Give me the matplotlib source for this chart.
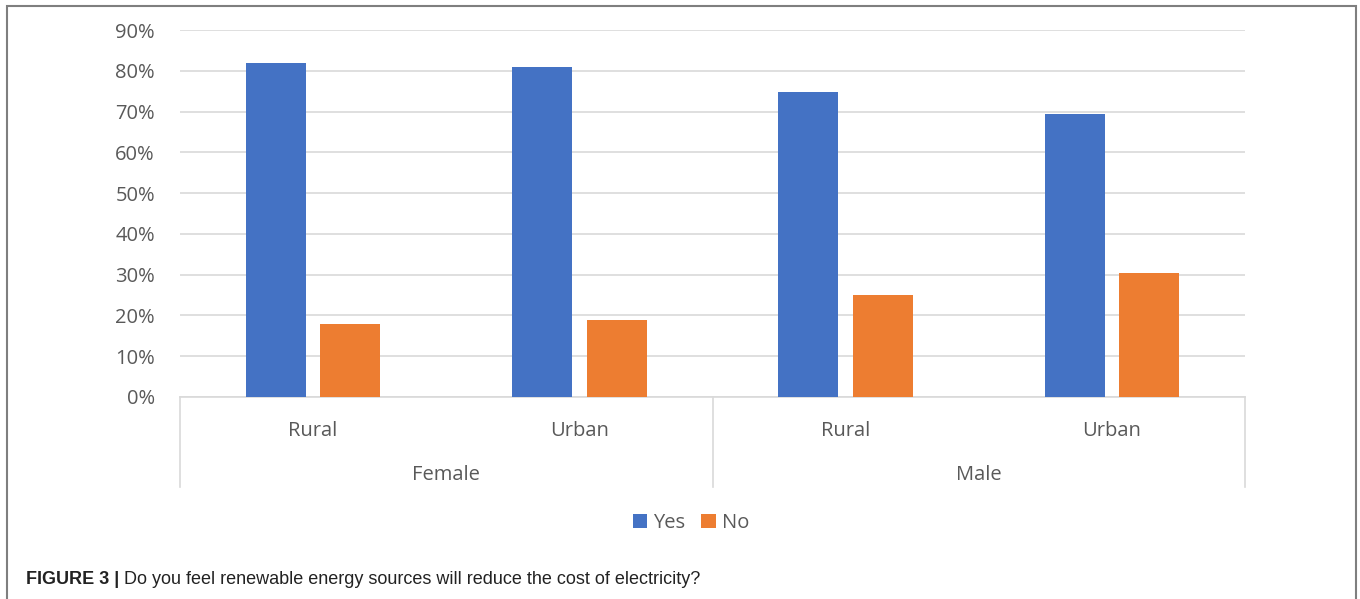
import matplotlib
matplotlib.use("Agg")
import matplotlib.pyplot as plt
from matplotlib.patches import Rectangle
from matplotlib.lines import Line2D
import numpy as np

# data
genders = ["Female", "Male"]
areas = ["Rural", "Urban", "Rural", "Urban"]
yes_vals = [0.818, 0.809, 0.748, 0.694]
no_vals = [0.180, 0.190, 0.250, 0.305]
yticks = [0.0, 0.1, 0.2, 0.3, 0.4, 0.5, 0.6, 0.7, 0.8, 0.9]

BLUE = "#4472C4"
ORANGE = "#ED7D31"
GRID = "#D9D9D9"
TXT = "#595959"
FONT = ["Open Sans", "DejaVu Sans"]
FS = 14.5

plt.rcParams["font.family"] = FONT

W, H = 1360, 599
fig = plt.figure(figsize=(W / 100, H / 100), dpi=100)
ax = fig.add_axes([180 / W, 1 - 397 / H, (1245 - 180) / W, (397 - 30) / H])

x = np.arange(len(areas))
bw = 0.225
ax.bar(x - 0.14, yes_vals, width=bw, color=BLUE, label="Yes", zorder=3)
ax.bar(x + 0.14, no_vals, width=bw, color=ORANGE, label="No", zorder=3)

ax.set_xlim(-0.5, len(areas) - 0.5)
ax.set_ylim(0, 0.9)
ax.set_yticks(yticks)
ax.set_yticklabels([f"{int(round(v * 100))}%" for v in yticks],
                   color=TXT, fontsize=FS)
ax.tick_params(axis="y", length=0, pad=18)
ax.set_xticks([])
ax.grid(True, axis="y", color=GRID, lw=1.2, zorder=0)
for s in ("top", "right", "left"):
    ax.spines[s].set_visible(False)
ax.spines["bottom"].set_color(GRID)
ax.spines["bottom"].set_linewidth(1.2)

# two-level category axis
trans = ax.get_xaxis_transform()
sep_bottom = -90 / 367
for xs in (-0.5, 1.5, 3.5):
    ax.add_line(Line2D([xs, xs], [0, sep_bottom], transform=trans,
                       color=GRID, lw=1.2, clip_on=False))
for i, a in enumerate(areas):
    ax.text(i, -34 / 367, a, transform=trans, ha="center", va="center",
            color=TXT, fontsize=FS)
for j, g in enumerate(genders):
    ax.text(2 * j + 0.5, -78 / 367, g, transform=trans, ha="center",
            va="center", color=TXT, fontsize=FS)

handles, labels = ax.get_legend_handles_labels()
fig.legend(handles, labels, loc="center", bbox_to_anchor=(691 / W, 1 - 523 / H),
           ncol=2, frameon=False, fontsize=14.5, handlelength=0.7,
           handleheight=0.7, handletextpad=0.3, columnspacing=0.8,
           labelcolor=TXT)

# figure frame
fig.add_artist(Rectangle((7 / W, -0.02), (1356 - 7) / W, 1.02 - 6 / H,
                         transform=fig.transFigure, fill=False,
                         edgecolor="#7F7F7F", lw=1.5))

cap_y = 1 - 579 / H
cap_font = ["Liberation Sans Narrow", "Liberation Sans"]
t = fig.text(26 / W, cap_y, "FIGURE 3 |", fontsize=13, fontweight="bold",
             family=cap_font, color="#222222", va="center")
fig.canvas.draw()
bb = t.get_window_extent()
fig.text(bb.x1 / W + 5 / W, cap_y,
         "Do you feel renewable energy sources will reduce the cost of electricity?",
         fontsize=13, family=cap_font, color="#222222", va="center")

fig.savefig("out.png", dpi=100)
